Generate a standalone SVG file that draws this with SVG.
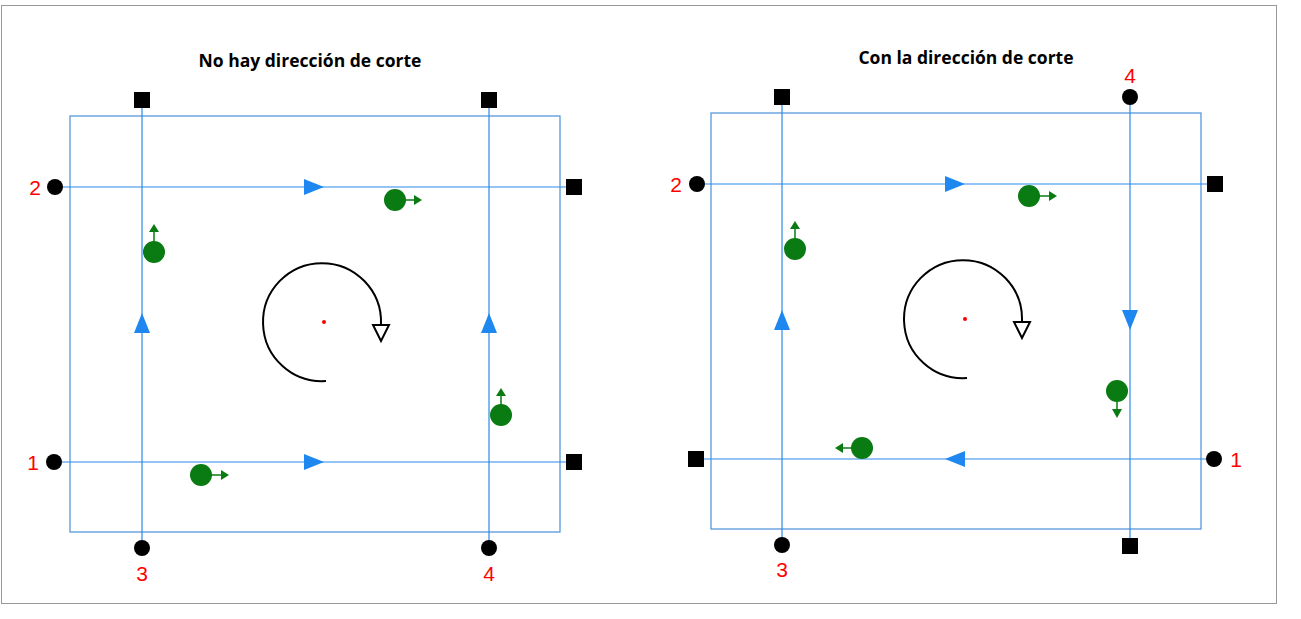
<svg xmlns="http://www.w3.org/2000/svg" width="1301" height="619" viewBox="0 0 1301 619">
<style>
.frame{fill:none;stroke:#4a90d9;stroke-width:1.2}
.ln{stroke:#2a8ae8;stroke-width:1.2}
.tri{fill:#1e88f0}
.g{fill:#0a7a12}
.ga{stroke:#0a7a12;stroke-width:1.5}
.num{font-family:"Liberation Sans",Arial,sans-serif;font-size:21px;fill:#f00;text-anchor:middle}
.title{font-family:"Open Sans","Liberation Sans",sans-serif;font-size:17.5px;font-weight:bold;text-anchor:middle}
.rot{fill:none;stroke:#000;stroke-width:2}
</style>
<rect x="1.5" y="5.5" width="1275" height="598" fill="#fff" stroke="#999"/>
<text class="title" x="310" y="67">No hay dirección de corte</text>
<text class="title" x="966" y="64">Con la dirección de corte</text>
<g id="left">
<rect class="frame" x="70" y="116" width="490" height="416"/>
<g id="connectors-left">
<line class="ln" x1="55" y1="187" x2="574" y2="187"/>
<line class="ln" x1="54" y1="462" x2="574" y2="462"/>
<line class="ln" x1="142" y1="100" x2="142" y2="548"/>
<line class="ln" x1="489" y1="100" x2="489" y2="548"/>
<polygon class="tri" points="304,179 324,187 304,195"/>
<polygon class="tri" points="304,454 324,462 304,470"/>
<polygon class="tri" points="134,333 142,313 150,333"/>
<polygon class="tri" points="481,333 489,313 497,333"/>
</g>
<g id="l-ends">
<rect x="134" y="92" width="16" height="16"/><rect x="481" y="92" width="16" height="16"/>
<rect x="566" y="179" width="16" height="16"/><rect x="566" y="454" width="16" height="16"/>
<circle cx="55" cy="187" r="8"/><circle cx="54" cy="462" r="8"/>
<circle cx="142" cy="548" r="8"/><circle cx="489" cy="548" r="8"/>
<text class="num" x="35" y="195">2</text><text class="num" x="33" y="470">1</text>
<text class="num" x="142" y="581">3</text><text class="num" x="489" y="581">4</text>
</g>
<g id="l-green">
<circle class="g" cx="395" cy="200" r="11"/><line class="ga" x1="405" y1="200" x2="414" y2="200"/><polygon class="g" points="414,195 422,200 414,205"/>
<circle class="g" cx="154" cy="252" r="11"/><line class="ga" x1="154" y1="242" x2="154" y2="232"/><polygon class="g" points="149,232 154,224 159,232"/>
<circle class="g" cx="201" cy="475" r="11"/><line class="ga" x1="211" y1="475" x2="221" y2="475"/><polygon class="g" points="221,470 229,475 221,480"/>
<circle class="g" cx="501" cy="415" r="11"/><line class="ga" x1="501" y1="405" x2="501" y2="396"/><polygon class="g" points="496,396 501,388 506,396"/>
</g>
<g id="l-rot">
<path class="rot" d="M326,381 A59,59 0 1 1 381,324"/>
<polygon points="373,325 389,325 381,341" fill="#fff" stroke="#000" stroke-width="2"/>
<circle cx="324" cy="322" r="2" fill="#f00"/>
</g>
</g>
<g id="right">
<rect class="frame" x="711" y="113" width="490" height="416"/>
<g id="connectors-right">
<line class="ln" x1="697" y1="184" x2="1215" y2="184"/>
<line class="ln" x1="696" y1="459" x2="1214" y2="459"/>
<line class="ln" x1="782" y1="97" x2="782" y2="545"/>
<line class="ln" x1="1130" y1="97" x2="1130" y2="546"/>
<polygon class="tri" points="945,176 965,184 945,192"/>
<polygon class="tri" points="965,451 945,459 965,467"/>
<polygon class="tri" points="774,330 782,310 790,330"/>
<polygon class="tri" points="1122,310 1130,330 1138,310"/>
</g>
<g id="r-ends">
<rect x="774" y="89" width="16" height="16"/><rect x="1207" y="176" width="16" height="16"/>
<rect x="688" y="451" width="16" height="16"/><rect x="1122" y="538" width="16" height="16"/>
<circle cx="1130" cy="97" r="8"/><circle cx="697" cy="184" r="8"/>
<circle cx="1214" cy="459" r="8"/><circle cx="782" cy="545" r="8"/>
<text class="num" x="1130" y="83">4</text><text class="num" x="676" y="192">2</text>
<text class="num" x="1236" y="467">1</text><text class="num" x="782" y="577">3</text>
</g>
<g id="r-green">
<circle class="g" cx="1029" cy="196" r="11"/><line class="ga" x1="1039" y1="196" x2="1049" y2="196"/><polygon class="g" points="1049,191 1057,196 1049,201"/>
<circle class="g" cx="795" cy="249" r="11"/><line class="ga" x1="795" y1="239" x2="795" y2="229"/><polygon class="g" points="790,229 795,221 800,229"/>
<circle class="g" cx="1117" cy="391" r="11"/><line class="ga" x1="1117" y1="401" x2="1117" y2="410"/><polygon class="g" points="1112,409 1117,418 1122,409"/>
<circle class="g" cx="862" cy="448" r="11"/><line class="ga" x1="852" y1="448" x2="843" y2="448"/><polygon class="g" points="843,443 835,448 843,453"/>
</g>
<g id="r-rot">
<path class="rot" d="M967,378 A59,59 0 1 1 1022,321"/>
<polygon points="1014,322 1030,322 1022,338" fill="#fff" stroke="#000" stroke-width="2"/>
<circle cx="965" cy="319" r="2" fill="#f00"/>
</g>
</g>
</svg>
